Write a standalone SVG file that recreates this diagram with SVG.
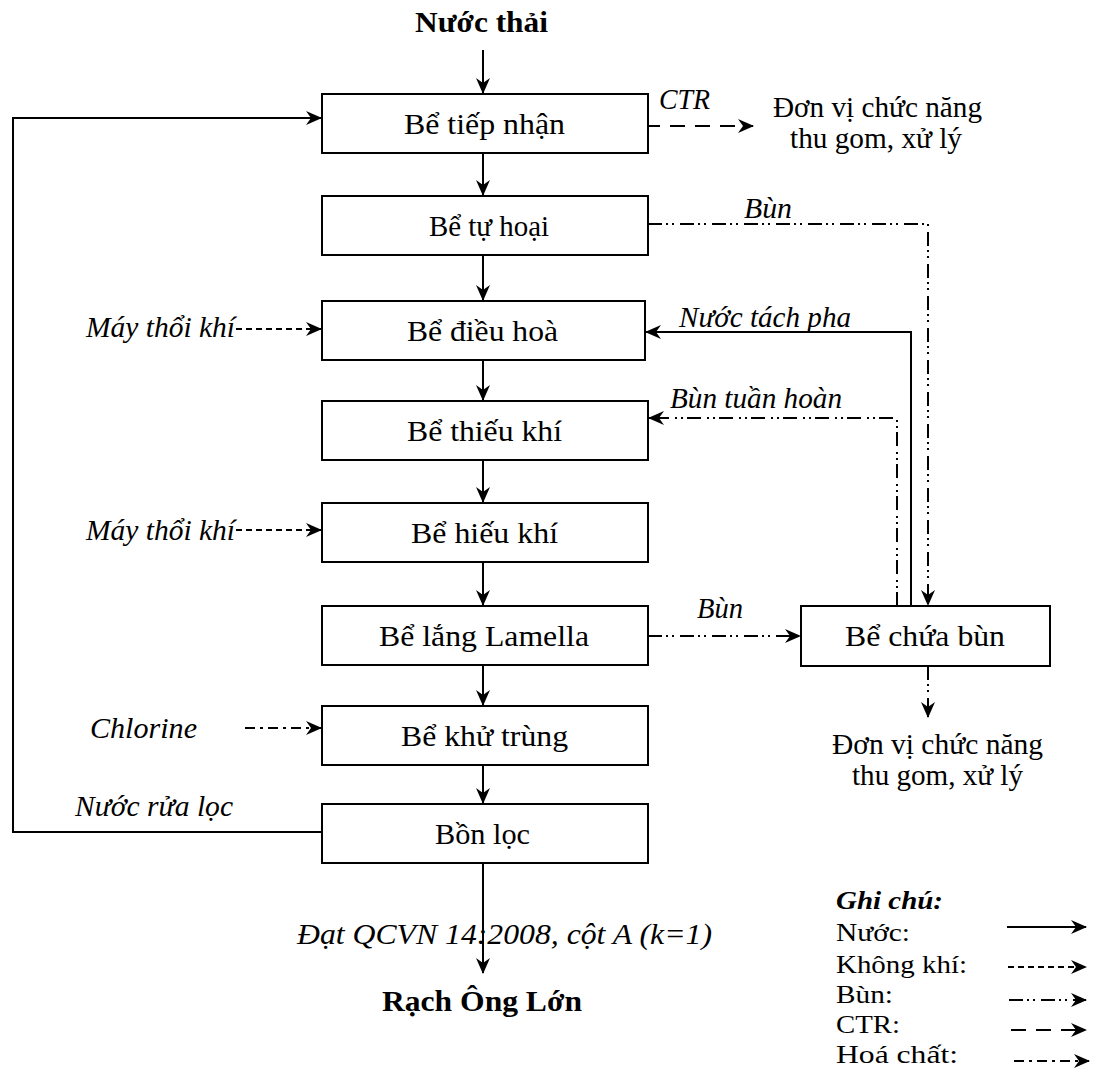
<svg xmlns="http://www.w3.org/2000/svg" width="1100" height="1081" viewBox="0 0 1100 1081">
<style>
text{font-family:"Liberation Serif","Times New Roman",serif;font-size:29px;fill:#000}
.b{font-weight:bold}
.i{font-style:italic}
.bi{font-weight:bold;font-style:italic;font-size:26px}
.lg{font-size:26px}
.box{fill:#fff;stroke:#000;stroke-width:2}
.ln{fill:none;stroke:#000;stroke-width:2}
.air{stroke-dasharray:6 4}
.mud{stroke-dasharray:14 4 2 4 2 6}
.ctr{stroke-dasharray:15 10}
.chem{stroke-dasharray:10 5 3 5}
</style>
<defs>
<marker id="arr" markerUnits="userSpaceOnUse" markerWidth="16" markerHeight="14" refX="15" refY="7" orient="auto">
<path d="M0,0 L16,7 L0,14 L5,7 z" fill="#000"/>
</marker>
</defs>
<rect width="1100" height="1081" fill="#fff"/>
<g id="connectors">
<line class="ln" x1="483" y1="50" x2="483" y2="93" marker-end="url(#arr)"/>
<line class="ln" x1="483" y1="153" x2="483" y2="195" marker-end="url(#arr)"/>
<line class="ln" x1="483" y1="255" x2="483" y2="300" marker-end="url(#arr)"/>
<line class="ln" x1="483" y1="360" x2="483" y2="400" marker-end="url(#arr)"/>
<line class="ln" x1="483" y1="460" x2="483" y2="502" marker-end="url(#arr)"/>
<line class="ln" x1="483" y1="562" x2="483" y2="605" marker-end="url(#arr)"/>
<line class="ln" x1="483" y1="665" x2="483" y2="705" marker-end="url(#arr)"/>
<line class="ln" x1="483" y1="765" x2="483" y2="803" marker-end="url(#arr)"/>
<line class="ln" x1="483" y1="863" x2="483" y2="973" marker-end="url(#arr)"/>
<path class="ln" d="M322,832 L13,832 L13,118 L321,118" marker-end="url(#arr)"/>
<line class="ln ctr" x1="645" y1="126" x2="753" y2="126" marker-end="url(#arr)"/>
<path class="ln mud" d="M648,224 L928,224 L928,605" marker-end="url(#arr)"/>
<path class="ln" d="M911,606 L911,332 L646,332" marker-end="url(#arr)"/>
<path class="ln mud" d="M897,606 L897,418 L649,418" marker-end="url(#arr)"/>
<line class="ln air" x1="236" y1="329" x2="321" y2="329" marker-end="url(#arr)"/>
<line class="ln air" x1="236" y1="530" x2="321" y2="530" marker-end="url(#arr)"/>
<line class="ln mud" x1="648" y1="636" x2="800" y2="636" marker-end="url(#arr)"/>
<line class="ln chem" x1="245" y1="728" x2="321" y2="728" marker-end="url(#arr)"/>
<line class="ln mud" x1="928" y1="666" x2="928" y2="717" marker-end="url(#arr)"/>
</g>
<g id="n-input"><text class="b" x="415" y="32" textLength="133" lengthAdjust="spacingAndGlyphs">Nước thải</text></g>
<g id="n-tiepnhan"><rect class="box" x="322" y="94" width="326" height="59"/><text x="404" y="134" textLength="161" lengthAdjust="spacingAndGlyphs">Bể tiếp nhận</text></g>
<g id="n-tuhoai"><rect class="box" x="322" y="196" width="326" height="59"/><text x="429" y="236" textLength="120" lengthAdjust="spacingAndGlyphs">Bể tự hoại</text></g>
<g id="n-dieuhoa"><rect class="box" x="322" y="301" width="323" height="59"/><text x="407" y="341" textLength="151" lengthAdjust="spacingAndGlyphs">Bể điều hoà</text></g>
<g id="n-thieukhi"><rect class="box" x="322" y="401" width="326" height="59"/><text x="407" y="441" textLength="155" lengthAdjust="spacingAndGlyphs">Bể thiếu khí</text></g>
<g id="n-hieukhi"><rect class="box" x="322" y="503" width="326" height="59"/><text x="411" y="543" textLength="147" lengthAdjust="spacingAndGlyphs">Bể hiếu khí</text></g>
<g id="n-lamella"><rect class="box" x="322" y="606" width="326" height="59"/><text x="379" y="646" textLength="210" lengthAdjust="spacingAndGlyphs">Bể lắng Lamella</text></g>
<g id="n-khutrung"><rect class="box" x="322" y="706" width="326" height="59"/><text x="401" y="746" textLength="167" lengthAdjust="spacingAndGlyphs">Bể khử trùng</text></g>
<g id="n-bonloc"><rect class="box" x="322" y="804" width="326" height="59"/><text x="435" y="844" textLength="95" lengthAdjust="spacingAndGlyphs">Bồn lọc</text></g>
<g id="n-chuabun"><rect class="box" x="801" y="606" width="249" height="60"/><text x="845" y="646" textLength="160" lengthAdjust="spacingAndGlyphs">Bể chứa bùn</text></g>
<g id="n-output"><text class="b" x="382" y="1011" textLength="200" lengthAdjust="spacingAndGlyphs">Rạch Ông Lớn</text></g>
<g id="n-donvi1"><text x="773" y="117" textLength="209" lengthAdjust="spacingAndGlyphs">Đơn vị chức năng</text><text x="790" y="148" textLength="172" lengthAdjust="spacingAndGlyphs">thu gom, xử lý</text></g>
<g id="n-donvi2"><text x="832" y="754" textLength="211" lengthAdjust="spacingAndGlyphs">Đơn vị chức năng</text><text x="852" y="785" textLength="171" lengthAdjust="spacingAndGlyphs">thu gom, xử lý</text></g>
<g id="n-may1"><text class="i" x="86" y="337" textLength="149" lengthAdjust="spacingAndGlyphs">Máy thổi khí</text></g>
<g id="n-may2"><text class="i" x="86" y="540" textLength="149" lengthAdjust="spacingAndGlyphs">Máy thổi khí</text></g>
<g id="n-chlorine"><text class="i" x="90" y="738" textLength="107" lengthAdjust="spacingAndGlyphs">Chlorine</text></g>
<g id="labels">
<text class="i" x="659" y="109" textLength="51" lengthAdjust="spacingAndGlyphs">CTR</text>
<text class="i" x="744" y="218" textLength="48" lengthAdjust="spacingAndGlyphs">Bùn</text>
<text class="i" x="679" y="327" textLength="172" lengthAdjust="spacingAndGlyphs">Nước tách pha</text>
<text class="i" x="670" y="408" textLength="172" lengthAdjust="spacingAndGlyphs">Bùn tuần hoàn</text>
<text class="i" x="697" y="618" textLength="46" lengthAdjust="spacingAndGlyphs">Bùn</text>
<text class="i" x="75" y="816" textLength="158" lengthAdjust="spacingAndGlyphs">Nước rửa lọc</text>
<text class="i" x="297" y="944" textLength="415" lengthAdjust="spacingAndGlyphs">Đạt QCVN 14:2008, cột A (k=1)</text>
</g>
<g id="legend">
<text class="bi" x="836" y="909" textLength="107" lengthAdjust="spacingAndGlyphs">Ghi chú:</text>
<text class="lg" x="836" y="941" textLength="74" lengthAdjust="spacingAndGlyphs">Nước:</text>
<text class="lg" x="836" y="973" textLength="131" lengthAdjust="spacingAndGlyphs">Không khí:</text>
<text class="lg" x="836" y="1003" textLength="57" lengthAdjust="spacingAndGlyphs">Bùn:</text>
<text class="lg" x="836" y="1033" textLength="64" lengthAdjust="spacingAndGlyphs">CTR:</text>
<text class="lg" x="836" y="1063" textLength="122" lengthAdjust="spacingAndGlyphs">Hoá chất:</text>
<line class="ln" x1="1007" y1="927" x2="1086" y2="927" marker-end="url(#arr)"/>
<line class="ln air" x1="1008" y1="967" x2="1086" y2="967" marker-end="url(#arr)"/>
<line class="ln mud" x1="1009" y1="1000" x2="1086" y2="1000" marker-end="url(#arr)"/>
<line class="ln ctr" x1="1011" y1="1030" x2="1086" y2="1030" marker-end="url(#arr)"/>
<line class="ln chem" x1="1014" y1="1061" x2="1089" y2="1061" marker-end="url(#arr)"/>
</g>
</svg>
